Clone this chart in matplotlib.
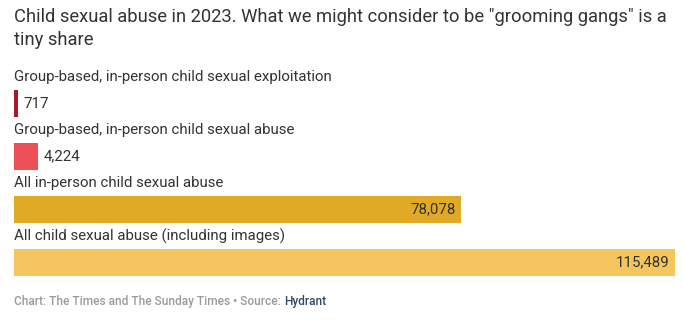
import matplotlib.pyplot as plt

plt.rcParams['font.family'] = ['Roboto', 'DejaVu Sans']

categories = [
    "Group-based, in-person child sexual exploitation",
    "Group-based, in-person child sexual abuse",
    "All in-person child sexual abuse",
    "All child sexual abuse (including images)",
]
values = [717, 4224, 78078, 115489]
colors = ["#a51b2b", "#ee5057", "#e0aa27", "#f5c55f"]

W, H = 683, 322
fig = plt.figure(figsize=(W / 100, H / 100), dpi=100)

# axes placed in pixel terms: bars run from x=14 to 675, y=90 to 276
ax = fig.add_axes([14 / W, 1 - 276 / H, (675 - 14) / W, (276 - 90) / H])
ax.set_xlim(0, max(values))
ax.set_ylim(3.255, -0.255)
ax.axis("off")

ypos = list(range(len(values)))
ax.barh(ypos, values, height=0.51, color=colors)

for y, v, c in zip(ypos, values, categories):
    ax.text(0, y - 0.5, c, ha="left", va="center", fontsize=10.8, color="#333333")
    label = f"{v:,}"
    if v > 0.2 * max(values):
        ax.annotate(label, (v, y), xytext=(-4, 0), textcoords="offset points",
                    ha="right", va="center", fontsize=10.8, color="#333333")
    else:
        ax.annotate(label, (v, y), xytext=(4, 0), textcoords="offset points",
                    ha="left", va="center", fontsize=10.8, color="#333333")

fig.text(14 / W, 1 - 17 / H, 'Child sexual abuse in 2023. What we might consider to be "grooming gangs" is a',
         ha="left", va="center", fontsize=13.2, color="#333333")
fig.text(14 / W, 1 - 40 / H, "tiny share", ha="left", va="center", fontsize=13.2, color="#333333")

t = fig.text(14 / W, 1 - 301 / H, "Chart: The Times and The Sunday Times \u2022 Source: ",
             ha="left", va="center", fontsize=8.6, color="#9a9a9a", fontweight="medium")
fig.canvas.draw()
bb = t.get_window_extent()
fig.text(bb.x1 / W, 1 - 301 / H, "Hydrant", ha="left", va="center", fontsize=8.6,
         color="#2b4a66", fontweight="medium")

fig.savefig("out.png", dpi=100)
